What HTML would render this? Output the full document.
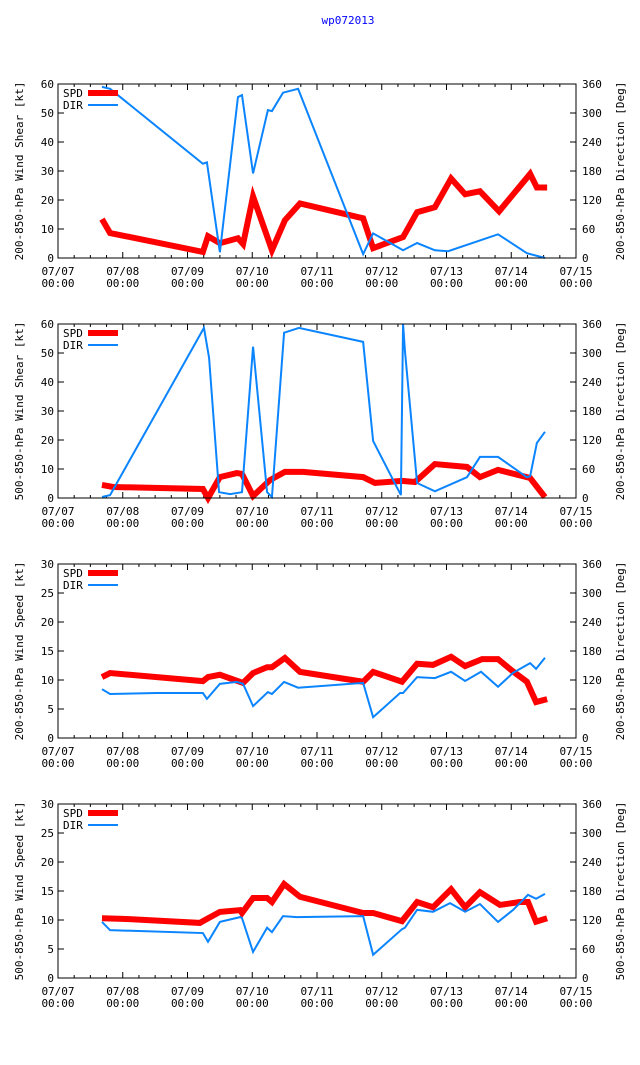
<!DOCTYPE html>
<html><head><meta charset="utf-8"><style>
body{margin:0;background:#fff;}
svg text{font-family:"DejaVu Sans Mono","Liberation Mono",monospace;font-size:11px;fill:#000;}
</style></head><body>
<svg id="chart" width="640" height="1060" xmlns="http://www.w3.org/2000/svg">
<text x="348" y="24" text-anchor="middle" style="fill:#0000ff">wp072013</text>
</svg>
<script>
// times in hours since 07/07 00:00
const p1SpdT=[16.3,19.3,53.7,55.6,60.0,66.7,68.6,72.3,79.3,84.1,89.7,113.1,116.8,127.9,133.1,139.7,145.7,150.9,156.4,163.5,175.0,177.5,181.3];
const p1SpdV=[13.4,8.6,2.1,7.5,5.1,6.8,4.8,21.2,2.7,13.0,18.8,13.7,3.4,7.2,15.8,17.5,27.4,22,23,16.1,29,24.3,24.3];
const p1DirT=[16.3,19.3,53.7,55.2,60.0,66.7,68.2,72.3,77.8,79.3,83.4,89.0,113.1,116.8,127.9,133.1,139.7,144.6,163.1,173.8,180.5];
const p1DirV=[354,350,195,198,12,333,337,175,306,304,342,350,8,51,16,31,16,14,49,10,0];
const p2SpdT=[16.3,20.4,53.7,55.6,60.0,66.3,68.2,72.3,78.6,84.1,90.8,113.1,117.5,127.5,132.3,139.7,151.6,156.4,163.1,175.0,180.5];
const p2SpdV=[4.5,3.8,3.1,0,7.2,8.6,8.3,0.7,6.2,9.0,9.0,7.2,5.2,5.9,5.5,11.7,10.7,7.2,9.7,6.9,0.3];
const p2DirT=[16.3,19.3,54.1,56.0,59.7,63.8,68.2,72.3,77.5,79.3,83.8,89.3,113.1,116.8,127.1,127.9,128.6,133.1,139.7,151.6,156.4,163.1,173.8,175.0,177.5,180.5];
const p2DirV=[2,6,352,290,12,8,12,313,12,2,342,352,323,118,6,360,304,31,14,43,85,85,43,45,114,137];
const p3SpdT=[16.3,19.3,53.7,55.6,60.0,68.6,72.3,77.5,79.3,84.1,89.7,113.1,116.8,127.5,133.1,139.0,145.7,150.9,157.2,163.1,168.3,173.8,177.2,181.3];
const p3SpdV=[10.5,11.2,9.8,10.5,10.9,9.5,11.2,12.2,12.2,13.8,11.4,9.7,11.4,9.7,12.8,12.6,14.0,12.4,13.6,13.6,11.6,9.7,6.2,6.7];
const p3DirT=[16.3,19.3,36.7,53.7,55.2,60.0,66.3,68.6,72.3,77.8,79.3,83.8,89.0,113.1,116.8,126.8,127.9,133.1,139.7,145.7,150.9,156.8,163.1,168.7,175.0,177.2,180.5];
const p3DirV=[101,91,93,93,81,112,116,112,66,95,91,116,104,114,43,93,93,126,124,137,118,137,106,135,155,143,166];
const p4SpdT=[16.3,24.1,52.6,54.5,60.0,67.5,68.2,72.3,77.5,79.3,83.8,89.7,113.1,116.8,127.5,133.1,139.0,145.7,150.9,156.4,163.8,171.2,174.2,177.2,181.3];
const p4SpdV=[10.3,10.2,9.5,10,11.4,11.7,11.2,13.8,13.8,13.1,16.2,14.0,11.2,11.2,9.8,13.1,12.2,15.3,12.2,14.8,12.6,13.1,13.1,9.7,10.3];
const p4DirT=[16.3,19.3,53.7,55.6,60.0,67.5,68.2,72.3,77.5,79.3,83.4,88.6,113.1,116.8,127.5,128.6,133.1,139.0,145.3,150.9,156.4,163.1,168.7,174.2,177.2,180.5];
const p4DirV=[116,99,93,75,116,126,124,54,104,95,128,126,128,48,101,104,141,137,155,137,153,116,141,172,164,174];
const xTickLabels=["07/07","07/08","07/09","07/10","07/11","07/12","07/13","07/14","07/15"];
const dirTicks=[0,60,120,180,240,300,360];

const NS="http://www.w3.org/2000/svg";
const svg=document.getElementById('chart');
const L=58,R=576;
function mk(tag,attrs,parent){const e=document.createElementNS(NS,tag);for(const k in attrs)e.setAttribute(k,attrs[k]);(parent||svg).appendChild(e);return e;}
const xs=h=>L+(R-L)*h/192;

const panels=[
 {top:84,max:60,step:10,yl:"200-850-hPa Wind Shear [kt]",y2l:"200-850-hPa Direction [Deg]",st:p1SpdT,sv:p1SpdV,dt:p1DirT,dv:p1DirV},
 {top:324,max:60,step:10,yl:"500-850-hPa Wind Shear [kt]",y2l:"200-850-hPa Direction [Deg]",st:p2SpdT,sv:p2SpdV,dt:p2DirT,dv:p2DirV},
 {top:564,max:30,step:5,yl:"200-850-hPa Wind Speed [kt]",y2l:"200-850-hPa Direction [Deg]",st:p3SpdT,sv:p3SpdV,dt:p3DirT,dv:p3DirV},
 {top:804,max:30,step:5,yl:"500-850-hPa Wind Speed [kt]",y2l:"500-850-hPa Direction [Deg]",st:p4SpdT,sv:p4SpdV,dt:p4DirT,dv:p4DirV}
];
panels.forEach((p,i)=>{
 const T=p.top,B=p.top+174;
 const g=mk('g',{});
 
 
 const ys=v=>B-(B-T)*v/p.max;
 const ys2=v=>B-(B-T)*v/360;
 for(let v=0;v<=p.max;v+=p.step){const y=ys(v);
  mk('line',{x1:L,x2:L+6,y1:y,y2:y,stroke:'#000'},g);
  const t=mk('text',{x:L-4,y:y+4,'text-anchor':'end'},g);t.textContent=v;
  
  }
 dirTicks.forEach(v=>{const y=ys2(v);
  mk('line',{x1:R-6,x2:R,y1:y,y2:y,stroke:'#000'},g);
  const t=mk('text',{x:R+6,y:y+4},g);t.textContent=v;
  
  });
 for(let h=0;h<=192;h+=6){const x=xs(h),len=h%24===0?6:3;
  mk('line',{x1:x,x2:x,y1:B,y2:B-len,stroke:'#000'},g);
  mk('line',{x1:x,x2:x,y1:T,y2:T+len,stroke:'#000'},g);}
 xTickLabels.forEach((lab,k)=>{const x=xs(k*24);
  const t1=mk('text',{x:x,y:B+17,'text-anchor':'middle'},g);t1.textContent=lab;
  
  
  const t2=mk('text',{x:x,y:B+29,'text-anchor':'middle'},g);t2.textContent="00:00";
  
  });
 const yl=mk('text',{transform:`translate(23,${(T+B)/2}) rotate(-90)`,'text-anchor':'middle'},g);yl.textContent=p.yl;
 
 
 const y2=mk('text',{transform:`translate(624,${(T+B)/2}) rotate(-90)`,'text-anchor':'middle'},g);y2.textContent=p.y2l;
 
 
 const sp=mk('polyline',{points:p.st.map((t,k)=>xs(t)+','+ys(p.sv[k])).join(' '),fill:'none',stroke:'#ff0000','stroke-width':6,'stroke-linejoin':'miter'},g);
 
 
 const dr=mk('polyline',{points:p.dt.map((t,k)=>xs(t)+','+ys2(p.dv[k])).join(' '),fill:'none',stroke:'#0a84ff','stroke-width':2},g);
 
 
 const l1=mk('text',{x:63,y:T+13},g);l1.textContent="SPD";
 
 
 mk('line',{x1:88,x2:118,y1:T+9,y2:T+9,stroke:'#ff0000','stroke-width':6},g);
 const l2=mk('text',{x:63,y:T+25},g);l2.textContent="DIR";
 
 
 mk('line',{x1:88,x2:118,y1:T+21,y2:T+21,stroke:'#0a84ff','stroke-width':2},g);
 const fr=mk('rect',{x:L,y:T,width:R-L,height:B-T,fill:'none',stroke:'#000'},g);
 
 
});
</script>
</body></html>
